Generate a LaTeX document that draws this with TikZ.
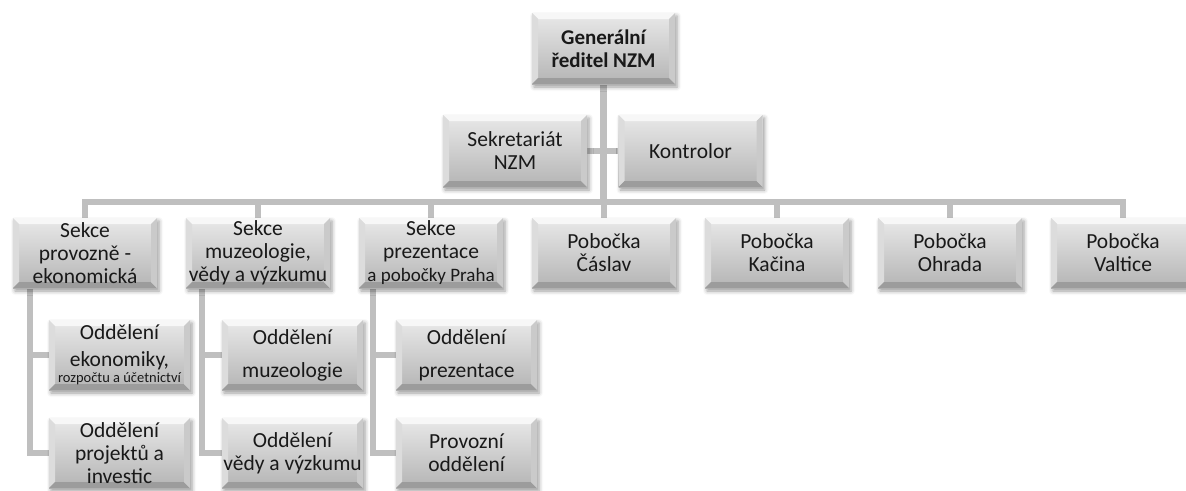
\documentclass[tikz,border=0pt]{standalone}
\usepackage{fontspec}
\setmainfont{Carlito}
\usetikzlibrary{shadows.blur,backgrounds}
\definecolor{linec}{HTML}{BFBFBF}
\definecolor{facetop}{HTML}{E9E9E9}
\definecolor{facebot}{HTML}{B4B4B4}
\definecolor{bevT}{HTML}{F7F7F7}
\definecolor{bevL}{HTML}{DCDCDC}
\definecolor{bevB}{HTML}{9C9C9C}
\definecolor{bevR}{HTML}{CACACA}
\newcommand\bevelpp{%
  \coordinate (bNW) at (path picture bounding box.north west);
  \coordinate (bNE) at (path picture bounding box.north east);
  \coordinate (bSW) at (path picture bounding box.south west);
  \coordinate (bSE) at (path picture bounding box.south east);
  \fill[bevT] (bNW) -- (bNE) -- ([shift={(-6pt,-6pt)}]bNE) -- ([shift={(6pt,-6pt)}]bNW) -- cycle;
  \fill[bevL] (bNW) -- ([shift={(6pt,-6pt)}]bNW) -- ([shift={(6pt,6pt)}]bSW) -- (bSW) -- cycle;
  \fill[bevB] (bSW) -- ([shift={(6pt,6pt)}]bSW) -- ([shift={(-6pt,6pt)}]bSE) -- (bSE) -- cycle;
  \fill[bevR] (bNE) -- ([shift={(-6pt,-6pt)}]bNE) -- ([shift={(-6pt,6pt)}]bSE) -- (bSE) -- cycle;
}
\tikzset{
  orgbox/.style={rectangle, minimum width=144pt, minimum height=70pt, inner sep=0pt,
    align=center, top color=facetop, bottom color=facebot, text=black!90,
    font=\fontsize{21.5}{23}\selectfont, path picture={\bevelpp},
    blur shadow={shadow xshift=2pt, shadow yshift=-3pt, shadow blur radius=4pt, shadow opacity=40}},
  subbox/.style={orgbox, minimum width=141pt},
  conn/.style={draw=linec, line width=6.5pt}
}
\newcommand\smtxt[1]{{\fontsize{14.5}{16}\selectfont #1}}
\newcommand\mdtxt[1]{{\fontsize{19}{20}\selectfont #1}}
\begin{document}
\begin{tikzpicture}[x=1pt, y=-1pt]
\useasboundingbox (0,0) rectangle (1186,490);
\clip (0,0) rectangle (1186,490);
\coordinate (bus) at (603.5,202);
\node[orgbox, minimum width=143pt, minimum height=71pt, font=\bfseries\fontsize{21}{23}\selectfont] (gd) at (603.5,48.5) {Generální\\ředitel NZM};
\node[orgbox, minimum height=72pt] (sek) at (515,151) {Sekretariát\\NZM};
\node[orgbox, minimum height=72pt] (kon) at (690.5,151) {Kontrolor};
\node[orgbox] (s1) at (85,253) {Sekce\\provozně -\\ekonomická};
\node[orgbox] (s2) at (258,253) {Sekce\\muzeologie,\\vědy a výzkumu};
\node[orgbox] (s3) at (431,253) {Sekce\\prezentace\\\mdtxt{a pobočky Praha}};
\node[orgbox] (s4) at (604,253) {Pobočka\\Čáslav};
\node[orgbox] (s5) at (777,253) {Pobočka\\Kačina};
\node[orgbox] (s6) at (950,253) {Pobočka\\Ohrada};
\node[orgbox] (s7) at (1123,253) {Pobočka\\Valtice};
\node[subbox] (c11) at (119.5,355) {Oddělení\\[4pt]ekonomiky,\\[-7pt]\smtxt{rozpočtu a účetnictví}};
\node[subbox] (c12) at (119.5,453) {Oddělení\\projektů a\\investic};
\node[subbox] (c21) at (292.5,355) {Oddělení\\[10pt]muzeologie};
\node[subbox] (c22) at (292.5,453) {Oddělení\\vědy a výzkumu};
\node[subbox] (c31) at (466.5,355) {Oddělení\\[10pt]prezentace};
\node[subbox] (c32) at (466.5,453) {Provozní\\oddělení};
\coordinate (v1) at ([xshift=-55pt]s1.south);
\coordinate (v2) at ([xshift=-56pt]s2.south);
\coordinate (v3) at ([xshift=-58pt]s3.south);
\begin{pgfonlayer}{background}
  \draw[conn] (gd.south) -- (bus);
  \draw[conn] (sek.east) -- (kon.west);
  \draw[conn] (s1.north) -- (s1.north |- bus) -- (s7.north |- bus) -- (s7.north);
  \foreach \s in {s2,s3,s4,s5,s6} \draw[conn] (\s.north) -- (\s.north |- bus);
  \draw[conn] (v1) |- (c11.west);
  \draw[conn] (v1) |- (c12.west);
  \draw[conn] (v2) |- (c21.west);
  \draw[conn] (v2) |- (c22.west);
  \draw[conn] (v3) |- (c31.west);
  \draw[conn] (v3) |- (c32.west);
\end{pgfonlayer}
\end{tikzpicture}
\end{document}
